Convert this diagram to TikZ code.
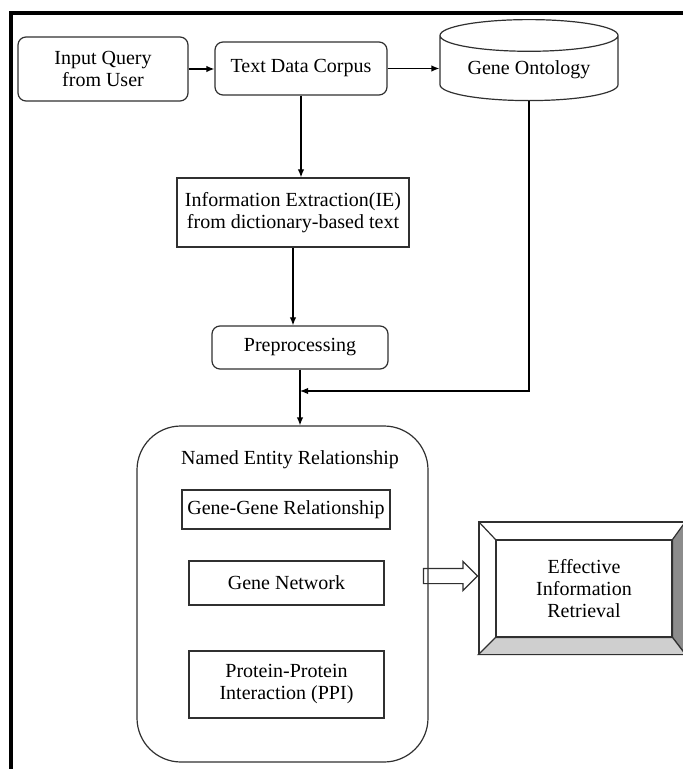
\documentclass[tikz,border=0pt]{standalone}
\usepackage{fontspec}
\setmainfont{Liberation Serif}
\newfontfamily\diagfont{Liberation Serif}
\usetikzlibrary{arrows.meta}
\usetikzlibrary{shapes.geometric,shapes.arrows,calc,positioning}
\definecolor{colorLine}{HTML}{303030}
\definecolor{colorSide}{HTML}{8C8C8C}
\definecolor{colorBase}{HTML}{CFCFCF}
\def\colorLine{colorLine}

\begin{document}
\begin{tikzpicture}[x=0.5pt, y=-0.5pt, font=\diagfont\fontsize{10pt}{11pt}\selectfont,
  box/.style={draw=\colorLine, line width=0.6pt, align=center, inner sep=1pt},
  roundbox/.style={box, rounded corners=4pt},
  link/.style={line width=0.6pt, -{Latex[length=4pt,width=3.2pt]}}]

  \useasboundingbox (0,0) rectangle (682,769);
  \draw[line width=1.6pt] (11,775) -- (11,13) -- (690,13);

  % Ligne du haut
  \node[roundbox, minimum width=85pt, minimum height=32pt] (query) at (103,69) {Input Query\\from User};
  \node[roundbox, minimum width=86pt, minimum height=26.5pt] (corpus) at (301,68.5) {Text Data Corpus};
  \node[box, cylinder, shape border rotate=90, aspect=0.25, minimum width=89pt, minimum height=40.5pt] (onto) at (529,70) {Gene Ontology};

  \node[box, minimum width=116pt, minimum height=34.5pt] (ie) at (293,212.5) {Information Extraction(IE)\\from dictionary-based text};
  \node[roundbox, minimum width=88pt, minimum height=21.5pt] (prep) at (300,347.5) {Preprocessing};

  % Bloc NER
  \node[box, rounded corners=22pt, minimum width=145.5pt, minimum height=168pt] (ner) at (282.5,594) {};
  \node (nerlabel) at (290,460) {Named Entity Relationship};
  \node[box, minimum width=104pt, minimum height=19.5pt] (gg) at (286,509.5) {Gene-Gene Relationship};
  \node[box, minimum width=97.5pt, minimum height=22pt] (gn) at (286.5,583) {Gene Network};
  \node[box, minimum width=97.5pt, minimum height=33.5pt] (ppi) at (286.5,684.5) {Protein-Protein\\Interaction (PPI)};

  % Boite biseautee
  \node[draw=\colorLine, line width=0.6pt, minimum width=103pt, minimum height=66pt] (outer) at (582,588) {};
  \node[box, minimum width=88pt, minimum height=48.5pt] (eir) at (584,588.5) {Effective\\Information\\Retrieval};
  \fill[colorSide, draw=\colorLine, line width=0.6pt] (outer.north east) -- (eir.north east) -- (eir.south east) -- (outer.south east) -- cycle;
  \fill[colorBase, draw=\colorLine, line width=0.6pt] (outer.south west) -- (eir.south west) -- (eir.south east) -- (outer.south east) -- cycle;
  \draw[\colorLine, line width=0.6pt] (outer.north west) -- (eir.north west);
  \draw[box] (eir.south west) rectangle (eir.north east);

  \node[box, single arrow, inner xsep=0pt, inner ysep=3.5pt, single arrow head extend=3.5pt, minimum height=27pt, anchor=tip] (fat) at (outer.west |- 0,576) {};

  % Fleches
  \draw[link] (query.east) -- (query.east -| corpus.west);
  \draw[link] (corpus.east) -- (corpus.east -| onto.west);
  \draw[link] (corpus.south) -- (corpus.south |- ie.north);
  \draw[link] (ie.south) -- (ie.south |- prep.north);
  \draw[link] (prep.south) -- (prep.south |- ner.north);
  \coordinate (merge) at (300,391);
  \draw[link] (onto.south) |- (merge);

\end{tikzpicture}
\end{document}
